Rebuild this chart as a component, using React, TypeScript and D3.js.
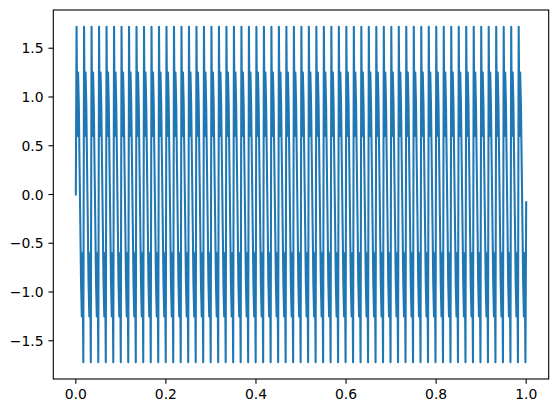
import React from "react";
import * as d3 from "d3";

// One repeating cycle of sample levels (60 identical cycles on 0..1)
const cycleLevels = [1.72, 0.6, 1.25, 0.91, 0.3, -0.3, -0.91, -1.25, -0.6, -1.72];
const cycleCount = 60;
const startValue = 0;
const endValue = -0.08;
const xTicks = [0.0, 0.2, 0.4, 0.6, 0.8, 1.0];
const yTicks = [-1.5, -1.0, -0.5, 0.0, 0.5, 1.0, 1.5];

const W = 559;
const H = 413;
const left = 53.3;
const right = 548.7;
const top = 10;
const bottom = 379;
const FONT = "DejaVu Sans, sans-serif";

export default function App() {
  const values: number[] = [startValue];
  for (let c = 0; c < cycleCount; c++) values.push(...cycleLevels);
  values.push(endValue);
  const n = values.length;
  const data = values.map((v, i) => [i / (n - 1), v] as [number, number]);

  const ymax = d3.max(values)!;
  const ymin = d3.min(values)!;
  const ypad = (ymax - ymin) * 0.05;
  const x = d3.scaleLinear().domain([-0.05, 1.05]).range([left, right]);
  const y = d3.scaleLinear().domain([ymin - ypad, ymax + ypad]).range([bottom, top]);
  const line = d3.line<[number, number]>().x((d) => x(d[0])).y((d) => y(d[1]));

  const tickLen = 4.86;
  const pad = 4.86;
  return (
    <svg width={W} height={H} style={{ position: "absolute", left: 0, top: 0, background: "#fff" }}>
      <rect x={0} y={0} width={W} height={H} fill="#fff" />
      <defs>
        <clipPath id="clip">
          <rect x={left} y={top} width={right - left} height={bottom - top} />
        </clipPath>
      </defs>
      <path
        d={line(data) || ""}
        fill="none"
        stroke="#1f77b4"
        strokeWidth={2.08}
        strokeLinejoin="round"
        strokeLinecap="square"
        clipPath="url(#clip)"
      />
      <rect x={left} y={top} width={right - left} height={bottom - top} fill="none" stroke="#000" strokeWidth={1.1} />
      {xTicks.map((t) => (
        <g key={"x" + t}>
          <line x1={x(t)} x2={x(t)} y1={bottom} y2={bottom + tickLen} stroke="#000" strokeWidth={1.1} />
          <text x={x(t)} y={bottom + tickLen + pad + 10.4} textAnchor="middle" fontFamily={FONT} fontSize={13.9} fill="#000">
            {t.toFixed(1)}
          </text>
        </g>
      ))}
      {yTicks.map((t) => (
        <g key={"y" + t}>
          <line x1={left - tickLen} x2={left} y1={y(t)} y2={y(t)} stroke="#000" strokeWidth={1.1} />
          <text x={left - tickLen - pad} y={y(t)} dy="0.36em" textAnchor="end" fontFamily={FONT} fontSize={13.9} fill="#000">
            {t < 0 ? "\u2212" + Math.abs(t).toFixed(1) : t.toFixed(1)}
          </text>
        </g>
      ))}
    </svg>
  );
}
